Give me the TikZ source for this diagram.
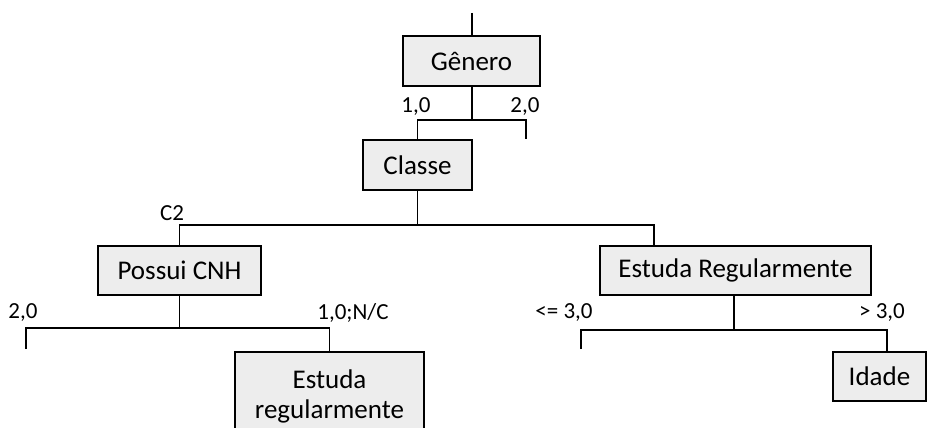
\documentclass[tikz,border=0pt]{standalone}
\usepackage{fontspec}
\setmainfont{Carlito}
\definecolor{boxfill}{HTML}{EDEDED}
\begin{document}
\begin{tikzpicture}[x=1pt,y=-1pt,
  box/.style={draw=black,line width=2pt,fill=boxfill,rectangle,inner sep=0pt,font=\fontsize{27}{30}\selectfont,align=center},
  lbl/.style={font=\fontsize{23}{27}\selectfont,inner sep=0pt},
  conn/.style={line width=1.5pt}]
\useasboundingbox (0,0) rectangle (931,428);
\node[box,minimum width=137pt,minimum height=50pt] (gen) at (471.5,61) {Gênero};
\node[box,minimum width=109pt,minimum height=50pt] (cls) at (417.5,165) {Classe};
\node[box,minimum width=163pt,minimum height=49pt] (pos) at (179.5,270.5) {Possui CNH};
\node[box,minimum width=271pt,minimum height=49pt] (est) at (735.5,270.5) {Estuda Regularmente};
\node[box,minimum width=189pt,minimum height=88pt] (er) at (329.5,396) {Estuda\\regularmente};
\node[box,minimum width=93pt,minimum height=49pt] (ida) at (879.5,376.5) {Idade};
\coordinate (top) at (472,13);
\coordinate (j1) at (472,120);
\coordinate (g2) at (526,139);
\coordinate (j2) at (417.5,225);
\coordinate (d2) at (654,246);
\coordinate (j3) at (179.5,328);
\coordinate (p1) at (26,349);
\coordinate (j4) at (734,330);
\coordinate (e1) at (581,349);
\coordinate (e2) at (887,352);
\draw[conn] (top) -- (gen.north -| top);
\draw[conn] (gen.south -| j1) -- (j1);
\draw[conn] (cls.north) |- (j1) -| (g2);
\draw[conn] (cls.south) -- (j2);
\draw[conn] (pos.north) |- (j2) -| (d2);
\draw[conn] (pos.south) -- (j3);
\draw[conn] (p1) |- (j3) -| (er.north);
\draw[conn] (est.south -| j4) -- (j4);
\draw[conn] (e1) |- (j4) -| (e2);
\node[lbl] (l1) at (416,107) {1,0};
\node[lbl] (l2) at (525,107) {2,0};
\node[lbl] (l3) at (172,213) {C2};
\node[lbl] (l4) at (23,313) {2,0};
\node[lbl] (l5) at (353,313) {1,0;N/C};
\node[lbl] (l6) at (564,313) {<= 3,0};
\node[lbl] (l7) at (882,313) {> 3,0};
\end{tikzpicture}
\end{document}
